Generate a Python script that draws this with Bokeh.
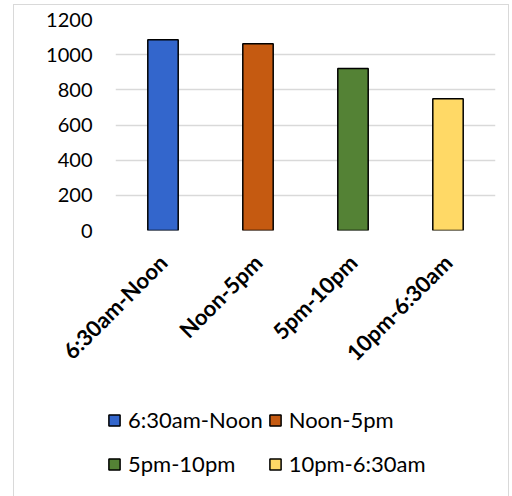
from bokeh.plotting import figure
from bokeh.layouts import column
from bokeh.models import ColumnDataSource, Legend, LegendItem, FactorRange, SingleIntervalTicker
from bokeh.embed import file_html
from bokeh.resources import INLINE
import math

categories = ["6:30am-Noon", "Noon-5pm", "5pm-10pm", "10pm-6:30am"]
values = [1085, 1062, 921, 750]
colors = ["#3366CC", "#C55A11", "#548235", "#FFD966"]

src = ColumnDataSource(dict(cat=categories, val=values, col=colors))

FONT = "Lato"

p = figure(x_range=FactorRange(*categories), y_range=(0, 1200),
           width=494, height=390, output_backend="svg", toolbar_location=None,
           min_border_left=101, min_border_right=13, min_border_top=14, min_border_bottom=165)
p.frame_align = False

r = p.vbar(x="cat", top="val", width=0.32, source=src, fill_color="col",
           line_color="black", line_width=1.5)

p.outline_line_color = None
p.xgrid.grid_line_color = None
p.ygrid.grid_line_color = "#d9d9d9"
p.ygrid.grid_line_width = 1.5
p.yaxis.ticker = SingleIntervalTicker(interval=200)
p.yaxis.axis_line_color = None
p.yaxis.major_tick_line_color = None
p.yaxis.minor_tick_line_color = None
p.yaxis.major_tick_out = 0
p.yaxis.major_label_standoff = 19
p.yaxis.major_label_text_font = FONT
p.yaxis.major_label_text_font_size = "20px"
p.yaxis.major_label_text_color = "#000000"

p.xaxis.axis_line_color = None
p.xaxis.major_tick_line_color = None
p.xaxis.major_tick_out = 0
p.xaxis.major_label_orientation = math.pi / 4
p.xaxis.major_label_standoff = 28
p.xaxis.major_label_text_font = FONT
p.xaxis.major_label_text_font_style = "bold"
p.xaxis.major_label_text_font_size = "22px"
p.xaxis.major_label_text_color = "#000000"

# legend panel below the chart
q = figure(x_range=FactorRange(*categories), y_range=(2000, 3000),
           width=494, height=101, output_backend="svg", toolbar_location=None,
           x_axis_location=None, y_axis_location=None,
           min_border_left=0, min_border_right=0, min_border_top=0, min_border_bottom=0)
q.frame_align = False
q.grid.visible = False
q.outline_line_color = None
rq = q.vbar(x="cat", top="val", width=0.32, source=src, fill_color="col",
            line_color="black", line_width=1.5)
rq.visible = False

legend = Legend(items=[LegendItem(label=c, renderers=[rq], index=i) for i, c in enumerate(categories)],
                location=(93, 13))
legend.orientation = "horizontal"
legend.ncols = 2
legend.padding = 0
legend.margin = 0
legend.spacing = 5
legend.glyph_width = 14
legend.glyph_height = 14
legend.label_standoff = 7
legend.label_height = 39
legend.label_text_font = FONT
legend.label_text_font_size = "22px"
legend.label_text_color = "#000000"
legend.border_line_color = None
legend.background_fill_alpha = 0
q.add_layout(legend, "center")

layout = column(p, q, spacing=0, margin=(4, 0, 0, 13),
                styles={"border-left": "1px solid #d9d9d9", "border-top": "1px solid #d9d9d9",
                        "border-right": "1px solid #d9d9d9"})

open("out.html", "w").write(file_html(layout, INLINE))
